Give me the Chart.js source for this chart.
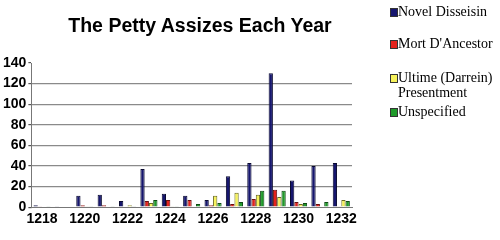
<!DOCTYPE html>
<html><head><meta charset="utf-8">
<script src="https://cdn.jsdelivr.net/npm/chart.js@4/dist/chart.umd.min.js"></script>
<style>
html,body{margin:0;padding:0;background:#fff;}
#wrap{position:relative;width:500px;height:240px;}
#title{position:absolute;left:0;top:13px;width:400px;text-align:center;font-family:"Liberation Sans",Arial,sans-serif;font-weight:bold;font-size:19.5px;line-height:24px;color:#000;}
#legend{position:absolute;left:0;top:0;width:500px;height:240px;pointer-events:none;font-family:"Liberation Serif","Times New Roman",serif;font-size:14px;color:#000;}
.item{position:absolute;left:390px;line-height:15px;}
.sw{position:absolute;left:0;top:4px;width:6px;height:7px;border:1px solid #333;}
.tx{position:absolute;left:8px;top:0;white-space:nowrap;}
</style></head><body>
<div id="wrap"><canvas id="c" width="500" height="240"></canvas><div id="title"></div><div id="legend"></div></div>
<script>
const chartTitle = 'The Petty Assizes Each Year';
const years = ['1218','1219','1220','1221','1222','1223','1224','1225','1226','1227','1228','1229','1230','1231','1232'];
const novelDisseisin = [2,1,11,12,6,37,13,11,7,30,43,130,26,40,43];
const mortDAncestor  = [1,0,2,2,0,6,7,7,2,3,8,17,5,3,1];
const ultimePresentment = [0,0,1,0,2,4,1,0,11,14,12,10,3,0,7];
const unspecified    = [1,0,1,1,1,7,1,3,4,5,16,16,4,5,6];
const yTicks = [0,20,40,60,80,100,120,140];
const seriesNames = ['Novel Disseisin','Mort D\'Ancestor',['Ultime (Darrein)','Presentment'],'Unspecified'];
const fills = ['#16166e','#e4221c','#f6f25a','#1f9a2a'];
const borders = ['#0a0a30','#6a1010','#6a6a20','#0f4a14'];
const legendTops = [4,36,70,104];

document.getElementById('title').textContent = chartTitle;
const data = [novelDisseisin, mortDAncestor, ultimePresentment, unspecified];
const chart = new Chart(document.getElementById('c'), {
  type: 'bar',
  data: {
    labels: years,
    datasets: data.map((d,i)=>({
      label: Array.isArray(seriesNames[i]) ? seriesNames[i].join(' ') : seriesNames[i],
      data: d,
      backgroundColor: fills[i],
      borderColor: borders[i],
      borderWidth: 1,
      borderSkipped: 'bottom',
      barPercentage: 1.0,
      categoryPercentage: 0.8
    }))
  },
  options: {
    responsive: false,
    animation: false,
    layout: {padding: {left: 1, right: 148, top: 63, bottom: 8}},
    plugins: {
      legend: {display: false},
      tooltip: {enabled: false},
      title: {display: false}
    },
    scales: {
      x: {
        grid: {display: false, drawTicks: false},
        border: {display: true, color: '#777', width: 1},
        ticks: {
          autoSkip: false, maxRotation: 0, minRotation: 0, padding: 4,
          color: '#000',
          font: {family: 'Liberation Sans, Arial, sans-serif', size: 14, weight: 'bold'},
          callback: function(v, i){ return i % 2 === 0 ? years[i] : ''; }
        }
      },
      y: {
        min: 0, max: 140,
        afterBuildTicks: function(axis){ axis.ticks = yTicks.map(v=>({value:v})); },
        grid: {
          color: function(ctx){ return (ctx.tick && (ctx.tick.value === 140 || ctx.tick.value === 0)) ? 'rgba(0,0,0,0)' : '#8a8a8a'; },
          tickColor: '#555',
          tickLength: 3,
          lineWidth: 1.2
        },
        border: {display: true, color: '#777', width: 1},
        ticks: {
          padding: 2, color: '#000',
          font: {family: 'Liberation Sans, Arial, sans-serif', size: 14, weight: 'bold'}
        }
      }
    }
  }
});

const lg = document.getElementById('legend');
seriesNames.forEach((n,i)=>{
  const it = document.createElement('div');
  it.className = 'item';
  it.style.top = legendTops[i] + 'px';
  const sw = document.createElement('span');
  sw.className = 'sw';
  sw.style.background = fills[i];
  const tx = document.createElement('span');
  tx.className = 'tx';
  tx.innerHTML = (Array.isArray(n) ? n : [n]).join('<br>');
  it.appendChild(sw); it.appendChild(tx);
  lg.appendChild(it);
});
</script>
</body></html>
